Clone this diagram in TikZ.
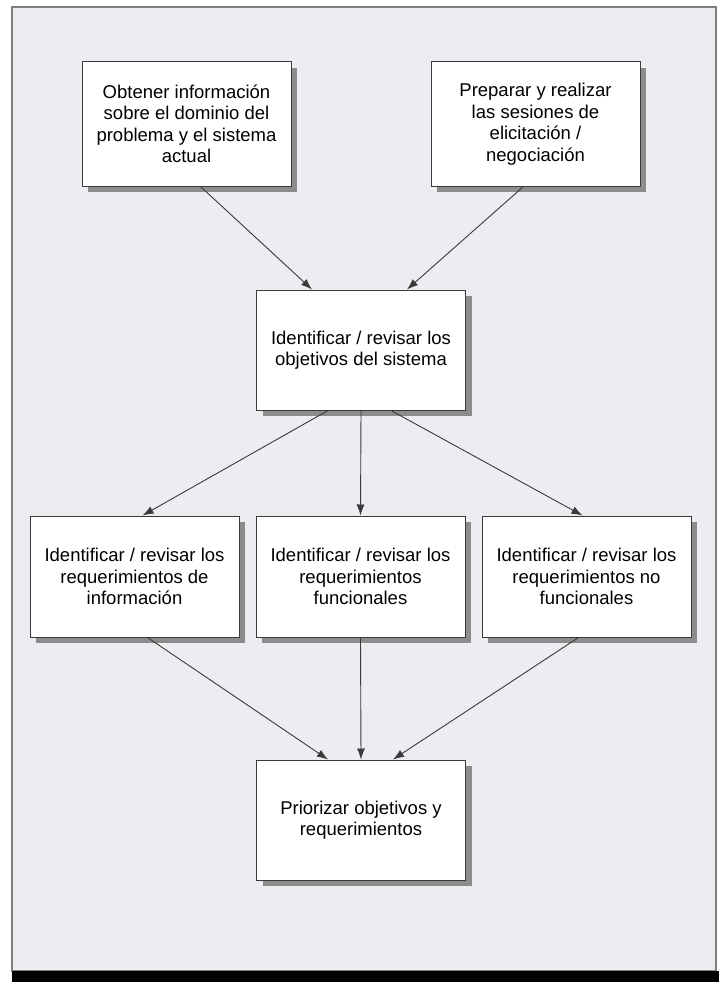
\documentclass[tikz,border=0pt]{standalone}
\usepackage{fontspec}
\setmainfont{Liberation Sans}
\usetikzlibrary{arrows.meta,shadows}

\definecolor{fondo}{HTML}{EEECF0}
\definecolor{borde}{HTML}{3A3A3A}

\begin{document}
\begin{tikzpicture}[x=1pt,y=-1pt]

      \useasboundingbox (0,0) rectangle (719,982);
      \fill[white] (0,0) rectangle (719,982);
      \draw[fill=fondo,draw=gray,line width=1.2pt] (12,7) rectangle (716,971);
      \fill[black] (12,971) rectangle (719,982);

      \begin{scope}[every node/.style={draw=borde,fill=white,line width=1pt,
          align=center,inner sep=0pt,minimum width=209pt,minimum height=121pt,
          font=\fontsize{18.5}{21.5}\selectfont,
          drop shadow={shadow xshift=6pt,shadow yshift=-6pt,fill=black!45,opacity=1}}]
        \node (obtener)   at (186.5,124) [minimum height=124pt]
          {Obtener información\\sobre el dominio del\\problema y el sistema\\actual};
        \node (preparar)  at (535.5,124) [minimum height=124pt]
          {Preparar y realizar\\las sesiones de\\elicitación /\\negociación};
        \node (objetivos) at (361,350) [minimum height=120pt]
          {Identificar / revisar los\\objetivos del sistema};
        \node (reqinfo)   at (134.5,576.5) {Identificar / revisar los\\requerimientos de\\información};
        \node (reqfunc)   at (360.5,576.5) {Identificar / revisar los\\requerimientos\\funcionales};
        \node (reqnofunc) at (586.5,576.5) {Identificar / revisar los\\requerimientos no\\funcionales};
        \node (priorizar) at (361,820) [minimum height=120pt]
          {Priorizar objetivos y\\requerimientos};
      \end{scope}

      \begin{scope}[every edge/.style={draw=borde,line width=0.9pt,
          -{Latex[length=11pt,width=8pt]}}]
        \path ([xshift=14pt]obtener.south)    edge ([xshift=-49pt]objetivos.north);
        \path ([xshift=-12pt]preparar.south)  edge ([xshift=46pt]objetivos.north);
        \path ([xshift=-33pt]objetivos.south) edge ([xshift=8pt]reqinfo.north);
        \path (objetivos.south)               edge (reqfunc.north);
        \path ([xshift=30pt]objetivos.south)  edge ([xshift=-4pt]reqnofunc.north);
        \path ([xshift=13pt]reqinfo.south)    edge ([xshift=-33pt]priorizar.south |- priorizar.north);
        \path (reqfunc.south)                 edge (priorizar.north);
        \path ([xshift=-8pt]reqnofunc.south)  edge ([xshift=32pt]priorizar.north);
      \end{scope}

    \end{tikzpicture}
\end{document}
